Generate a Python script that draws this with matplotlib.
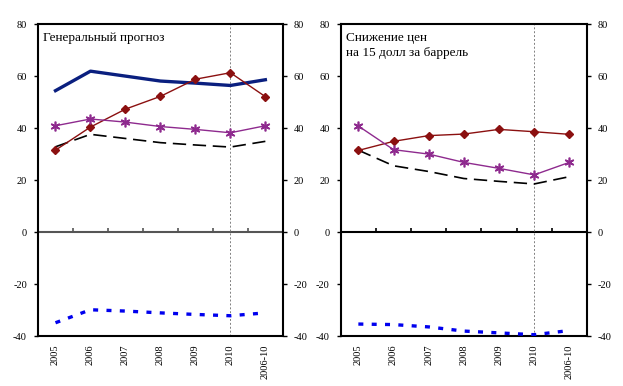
import numpy as np
import matplotlib
matplotlib.use("Agg")
from matplotlib import pyplot as plt

plt.rcParams['font.family'] = ['Liberation Serif', 'DejaVu Serif']
plt.rcParams['axes.unicode_minus'] = False

years = ["2005", "2006", "2007", "2008", "2009", "2010", "2006-10"]

# Генеральный прогноз
navy_left = [54.4, 61.9, 60.0, 58.1, 57.3, 56.4, 58.6]
red_left = [31.5, 40.4, 47.3, 52.2, 58.8, 61.3, 52.1]
purple_left = [40.9, 43.5, 42.3, 40.6, 39.5, 38.2, 40.9]
black_left = [32.8, 37.6, 36.0, 34.4, 33.5, 32.7, 34.9]
blue_left = [-34.9, -29.9, -30.4, -31.1, -31.7, -32.2, -31.1]

# Снижение цен на 15 долл за баррель
red_right = [31.4, 34.9, 37.1, 37.7, 39.5, 38.6, 37.6]
purple_right = [40.8, 31.7, 30.0, 26.8, 24.5, 22.0, 26.8]
black_right = [31.5, 25.5, 23.3, 20.6, 19.5, 18.5, 21.3]
blue_right = [-35.4, -35.6, -36.5, -38.1, -38.8, -39.5, -37.9]

titles = ["Генеральный прогноз", "Снижение цен\nна 15 долл за баррель"]

fig = plt.figure(figsize=(6.23, 3.86), dpi=100)
ax1 = fig.add_axes([0.061, 0.1295, 0.393, 0.808])
ax2 = fig.add_axes([0.547, 0.1295, 0.395, 0.808])

x = np.arange(len(years))


def setup(ax, title, zero_color):
    ax.set_xlim(-0.5, len(years) - 0.5)
    ax.set_ylim(-40, 80)
    ax.set_yticks(range(-40, 81, 20))
    ax.tick_params(axis='y', labelsize=7.5, length=3, width=1, direction='out',
                   left=True, right=True, labelleft=True, labelright=True, pad=5)
    ax.set_xticks(x)
    ax.set_xticklabels(years, rotation=90, fontsize=7.5)
    ax.tick_params(axis='x', length=0, pad=6)
    for s in ax.spines.values():
        s.set_linewidth(1.5)
    ax.axhline(0, color=zero_color, lw=1.5, zorder=1)
    # category boundary ticks on the zero line
    ax.vlines(x[:-1] + 0.5, 0, 1.4, color=zero_color, lw=1.2, zorder=1)
    # 2010 marker
    ax.axvline(years.index("2010"), color="#808080", lw=0.7, ls=(0, (2, 2)), zorder=1)
    ax.text(0.02, 0.975, title, transform=ax.transAxes, va='top', ha='left',
            fontsize=9.5, linespacing=1.3)


setup(ax1, titles[0], "#555555")
setup(ax2, titles[1], "black")

star = (6, 2, 0)

ax1.plot(x, navy_left, color="#0a1f7f", lw=2.4, zorder=3)
ax1.plot(x, red_left, color="#8b1010", lw=1.0, marker='D', ms=4.5, zorder=4)
ax1.plot(x, purple_left, color="#8e2a8e", lw=1.0, marker=star, ms=7, mew=1.2, zorder=4)
ax1.plot(x, black_left, color="black", lw=1.2, ls=(0, (8, 4)), zorder=3)
ax1.plot(x, blue_left, color="#0000ee", lw=2.4, ls=(0, (1.5, 2.5)), zorder=3)

ax2.plot(x, red_right, color="#8b1010", lw=1.0, marker='D', ms=4.5, zorder=4)
ax2.plot(x, purple_right, color="#8e2a8e", lw=1.0, marker=star, ms=7, mew=1.2, zorder=4)
ax2.plot(x, black_right, color="black", lw=1.2, ls=(0, (8, 4)), zorder=3)
ax2.plot(x, blue_right, color="#0000ee", lw=2.4, ls=(0, (1.5, 2.5)), zorder=3)

fig.savefig("out.png", dpi=100)
